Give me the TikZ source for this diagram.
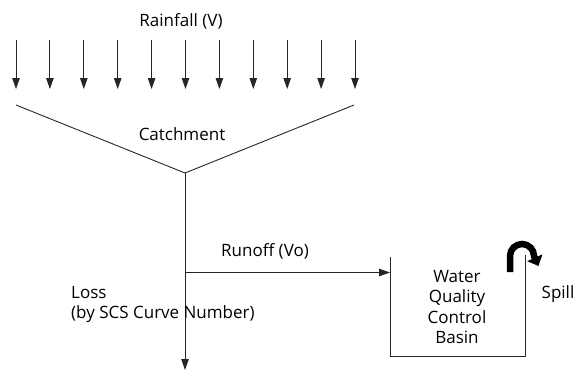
\documentclass[tikz,border=0pt]{standalone}
\usepackage{fontspec}
\setmainfont{Open Sans}
\usetikzlibrary{arrows.meta}
\begin{document}
\begin{tikzpicture}[x=1pt,y=-1pt,
  lbl/.style={font=\fontsize{17}{20}\selectfont, inner sep=0pt, anchor=base},
  lbll/.style={lbl, anchor=base west},
  thin line/.style={line width=0.9pt, draw=black!85},
  arr/.style={thin line, -{Triangle[length=11pt,width=7.5pt]}}]
\useasboundingbox (0,0) rectangle (585,375);
% rainfall
\node[lbl] (rain) at (181,26) {Rainfall (V)};
\foreach \i in {0,...,10} {
  \coordinate (t\i) at ({16+33.9*\i},40);
  \coordinate (b\i) at ({16+33.9*\i},89);
  \draw[arr] (t\i) -- (b\i);
}
% catchment
\coordinate (cl) at (16,105);
\coordinate (cr) at (354,105);
\coordinate (cv) at (185,173);
\draw[thin line] (cl) -- (cv) -- (cr);
\node[lbl] (catch) at (182,140) {Catchment};
% loss
\coordinate (lossend) at (185,370);
\draw[arr] (cv) -- (lossend);
\node[lbll] (loss1) at (71,298) {Loss};
\node[lbll] (loss2) at (71,318) {(by SCS Curve Number)};
% runoff
\coordinate (rs) at (185,272.5);
\coordinate (re) at (390,272.5);
\draw[arr] (rs) -- (re);
\node[lbl] (runoff) at (265,256) {Runoff (Vo)};
% basin
\coordinate (bl) at (390,257);
\coordinate (br) at (525,255);
\draw[thin line] (bl) -- (390,356) -- (525,356) -- (br);
\node[lbl] (basin1) at (457,282) {Water};
\node[lbl] (basin2) at (457,302) {Quality};
\node[lbl] (basin3) at (457,323) {Control};
\node[lbl] (basin4) at (457,343) {Basin};
% spill
\node[lbl] (spill) at (558,298) {Spill};
\coordinate (sp0) at (510,272);
\coordinate (sp1) at (510,256);
\coordinate (sp2) at (538.5,266);
\draw[line width=6.5pt, -{Triangle[length=9pt,width=16pt]}] (sp0) -- (sp1) arc[start angle=180, end angle=360, radius=12] -- (sp2);
\end{tikzpicture}
\end{document}
